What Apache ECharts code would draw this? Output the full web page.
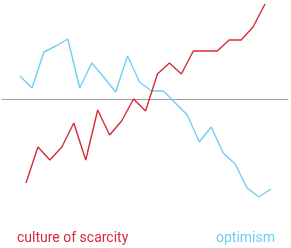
<!DOCTYPE html>
<html>
<head>
<meta charset="utf-8">
<script src="https://cdn.jsdelivr.net/npm/echarts@6/dist/echarts.min.js"></script>
<style>
  html, body { margin: 0; padding: 0; background: #fff; }
  #chart { width: 291px; height: 248px; }
</style>
</head>
<body>
<div id="chart"></div>
<script>
// index values, 0 = the grey reference line
const optimismSteps = ["1", "2", "3", "4", "5", "6", "7", "8", "9", "10", "11",
  "12", "13", "14", "15", "16", "17", "18", "19", "20", "21", "22"];
const optimism = [23, 11, 47, 53, 60, 11, 36, 22, 7, 43, 17,
  8, 8, -4, -16, -43, -28, -54, -65, -89, -98, -90];

const scarcitySteps = ["1", "2", "3", "4", "5", "6", "7", "8", "9", "10", "11",
  "12", "13", "14", "15", "16", "17", "18", "19", "20", "21"];
const scarcity = [-84, -48, -61, -48, -24, -61, -11, -36, -22, 0, -12,
  25, 36, 25, 48, 48, 48, 59, 59, 72, 95];

const red = "#d62a38";
const blue = "#72cdf1";

const chart = echarts.init(document.getElementById("chart"));

chart.setOption({
  animation: false,
  title: [
    {
      text: "culture of scarcity",
      left: 17, top: 231, padding: 0,
      textStyle: { color: red, fontSize: 14, fontWeight: "normal", fontFamily: "Roboto" },
    },
    {
      text: "optimism",
      left: 216, top: 231, padding: 0,
      textStyle: { color: blue, fontSize: 14, fontWeight: "normal", fontFamily: "Roboto" },
    },
  ],
  grid: [
    { left: 20, right: 20, top: 0, bottom: 50 },
    { left: 2, right: 3, top: 0, bottom: 50 },
  ],
  xAxis: [
    {
      type: "category", gridIndex: 0, data: optimismSteps, boundaryGap: false,
      axisLine: { show: false }, axisTick: { show: false }, axisLabel: { show: false },
    },
    {
      type: "category", gridIndex: 0, data: scarcitySteps, boundaryGap: true, position: "top",
      axisLine: { show: false }, axisTick: { show: false }, axisLabel: { show: false },
    },
    {
      type: "category", gridIndex: 1, data: ["a", "b"],
      axisLine: { show: true, onZero: true, lineStyle: { color: "#a0a0a0", width: 1 } },
      axisTick: { show: false }, axisLabel: { show: false },
    },
  ],
  yAxis: [
    {
      type: "value", gridIndex: 0, min: -99, max: 99,
      axisLine: { show: false }, axisTick: { show: false },
      axisLabel: { show: false }, splitLine: { show: false },
    },
    {
      type: "value", gridIndex: 1, min: -99, max: 99,
      axisLine: { show: false }, axisTick: { show: false },
      axisLabel: { show: false }, splitLine: { show: false },
    },
  ],
  series: [
    {
      name: "optimism", type: "line", xAxisIndex: 0, yAxisIndex: 0,
      data: optimism, symbol: "none",
      lineStyle: { color: blue, width: 1.4 },
    },
    {
      name: "culture of scarcity", type: "line", xAxisIndex: 1, yAxisIndex: 0,
      data: scarcity, symbol: "none",
      lineStyle: { color: red, width: 1.4 },
    },
  ],
});
</script>
</body>
</html>
